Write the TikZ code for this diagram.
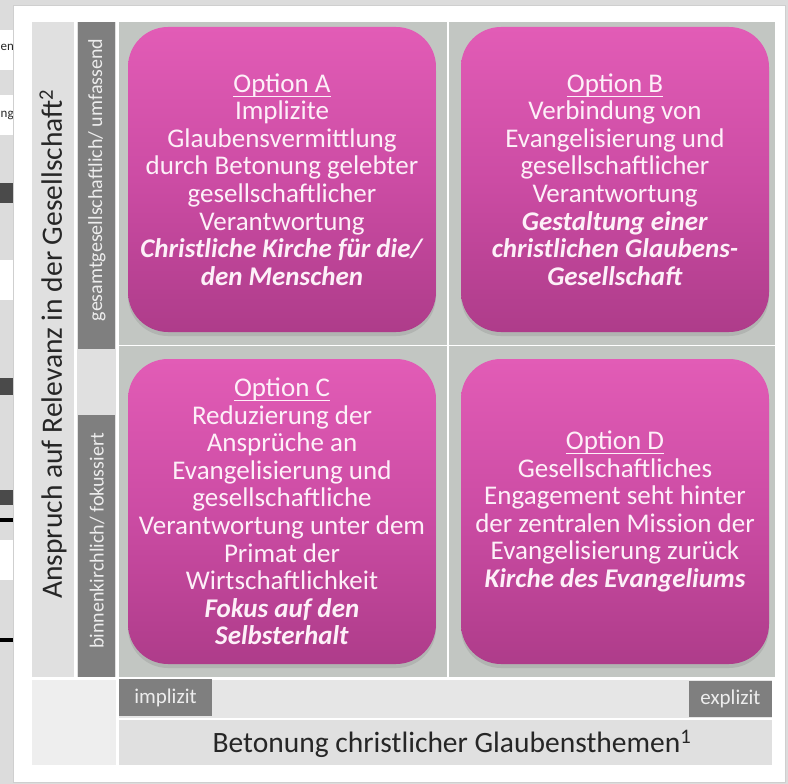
\documentclass[tikz,border=0pt]{standalone}
\usepackage{fontspec}
\setmainfont{Carlito}
\usetikzlibrary{shadows}
\definecolor{pageGray}{HTML}{DCDCDC}
\definecolor{panelLine}{HTML}{CFCFCF}
\definecolor{axisFill}{HTML}{E0E0E0}
\definecolor{cornerFill}{HTML}{EEEEEE}
\definecolor{stripFill}{HTML}{E6E6E6}
\definecolor{barGray}{HTML}{7F7F7F}
\definecolor{barText}{HTML}{EDEDED}
\definecolor{fieldGray}{HTML}{C2C6C2}
\definecolor{axisText}{HTML}{262626}
\definecolor{pinkTop}{HTML}{E25CB6}
\definecolor{pinkMid}{HTML}{CC4CA4}
\definecolor{pinkBot}{HTML}{AE3C8A}
\definecolor{optText}{HTML}{FDF0F8}
\definecolor{residueDark}{HTML}{4A4A4A}
% underline sitting just under the descenders
\newcommand{\optline}[1]{\setbox0\hbox{#1}\rlap{\rule[-4.6pt]{\wd0}{1.1pt}}\box0}
\begin{document}
\begin{tikzpicture}[x=1pt,y=-1pt,
  optbox/.style={rounded corners=40pt, minimum width=308pt, minimum height=305pt,
    top color=pinkTop, bottom color=pinkBot, middle color=pinkMid,
    text=optText, align=center, inner sep=0pt,
    font=\fontsize{27}{27.6}\selectfont,
    drop shadow={shadow xshift=0pt, shadow yshift=-4pt, opacity=0.25}},
  tagbox/.style={fill=barGray, text=barText, inner sep=0pt,
    font=\fontsize{21}{22}\selectfont},
  barlabel/.style={rotate=90, text=barText, font=\fontsize{20}{21}\selectfont},
  axislabel/.style={text=axisText, font=\fontsize{29.5}{30}\selectfont},
  residue/.style={anchor=west, text=axisText, inner sep=0pt, font=\fontsize{13}{14}\selectfont}]
\useasboundingbox (0,0) rectangle (788,784);

% page behind the panel
\fill[pageGray] (0,0) rectangle (788,784);
\fill[white] (0,30) rectangle (13,70);
\fill[white] (0,95) rectangle (13,135);
\fill[residueDark] (0,183) rectangle (13,203);
\fill[white] (0,260) rectangle (13,300);
\fill[residueDark] (0,378) rectangle (13,395);
\fill[residueDark] (0,490) rectangle (13,505);
\fill[black] (0,518) rectangle (13,522);
\fill[white] (0,540) rectangle (13,580);
\fill[black] (0,638) rectangle (13,642);
\node[residue] (resA) at (0.5,47) {en};
\node[residue] (resB) at (0.5,115) {ng};

% white panel
\filldraw[fill=white, draw=panelLine] (13,5) rectangle (785,782);

% vertical axis column and bars
\fill[axisFill] (32,22) rectangle (74,677);
\fill[axisFill] (77,22) rectangle (116,677);
\fill[barGray] (78,22) rectangle (115,349);
\fill[barGray] (78,415) rectangle (115,677);
\node[barlabel] (barTop) at (97,180) {gesamtgesellschaftlich/ umfassend};
\node[barlabel] (barBot) at (97,541) {binnenkirchlich/ fokussiert};
\node[axislabel, rotate=90] (ylab) at (53,344) {Anspruch auf Relevanz in der Gesellschaft\textsuperscript{2}};

% quadrant field
\fill[fieldGray] (119,22) rectangle (775,677);
\draw[white, line width=1.5pt] (448,22) -- (448,677);
\draw[white, line width=1.5pt] (119,345.5) -- (775,345.5);

% bottom axis
\fill[cornerFill] (32,680) rectangle (116,765);
\fill[stripFill] (119,680) rectangle (772,718);
\fill[axisFill] (119,720) rectangle (772,765);
\node[tagbox, minimum width=93pt, minimum height=37pt] (impl) at (165.5,697.5) {implizit};
\node[tagbox, minimum width=83pt, minimum height=36pt] (expl) at (730.5,698.5) {explizit};
\node[axislabel] (xlab) at (452,744) {Betonung christlicher Glaubensthemen\textsuperscript{1}};

% the four options
\node[optbox] (optA) at (282,179.5) {\optline{Option A}\\Implizite\\Glaubensvermittlung\\durch Betonung gelebter\\gesellschaftlicher\\Verantwortung\\\textbf{\textit{Christliche Kirche für die/}}\\\textbf{\textit{den Menschen}}};
\node[optbox] (optB) at (615,179.5) {\optline{Option B}\\Verbindung von\\Evangelisierung und\\gesellschaftlicher\\Verantwortung\\\textbf{\textit{Gestaltung einer}}\\\textbf{\textit{christlichen Glaubens-}}\\\textbf{\textit{Gesellschaft}}};
\node[optbox] (optC) at (282,511.5) {\optline{Option C}\\Reduzierung der\\Ansprüche an\\Evangelisierung und\\gesellschaftliche\\Verantwortung unter dem\\Primat der\\Wirtschaftlichkeit\\\textbf{\textit{Fokus auf den}}\\\textbf{\textit{Selbsterhalt}}};
\node[optbox] (optD) at (615,511.5) {\optline{Option D}\\Gesellschaftliches\\Engagement seht hinter\\der zentralen Mission der\\Evangelisierung zurück\\\textbf{\textit{Kirche des Evangeliums}}};
\end{tikzpicture}
\end{document}
